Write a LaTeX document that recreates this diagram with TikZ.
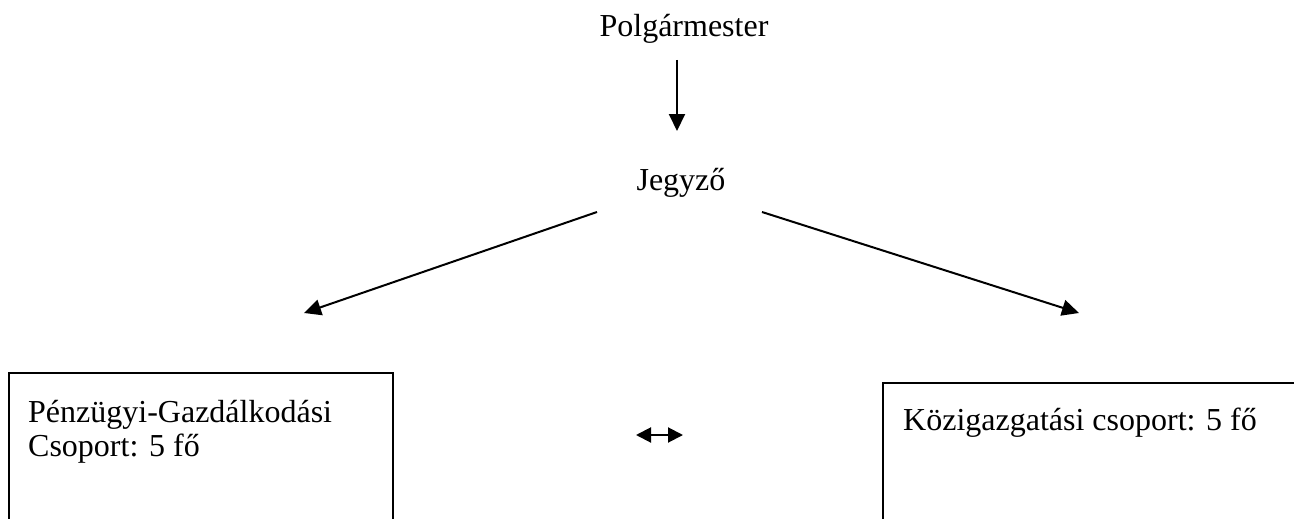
\documentclass[tikz,border=0pt]{standalone}
\usepackage{fontspec}
\setmainfont{Liberation Serif}
\usetikzlibrary{arrows.meta}
\begin{document}
\begin{tikzpicture}[x=1pt,y=-1pt,
  lbl/.style={inner sep=0pt,font=\fontsize{32}{38}\selectfont},
  conn/.style={line width=2pt,-{Triangle[length=17pt,width=16pt]}},
  dbl/.style={line width=2pt,{Triangle[length=15pt,width=15pt]}-{Triangle[length=15pt,width=15pt]}},
  boxline/.style={draw,line width=2.2pt,inner sep=0pt}]
\useasboundingbox (0,0) rectangle (1294,519);
\clip (0,0) rectangle (1294,519);
\node[lbl,anchor=base] (polg) at (684,37) {Polgármester};
\node[lbl,anchor=base] (jegy) at (681,190) {Jegyző};
\coordinate (pa) at (677,60);
\coordinate (pb) at (677,131);
\draw[conn] (pa) -- (pb);
\coordinate (la) at (597,212);
\coordinate (lb) at (304,313);
\coordinate (ra) at (762,212);
\coordinate (rb) at (1079,313);
\draw[conn] (la) -- (lb);
\draw[conn] (ra) -- (rb);
\node[boxline,anchor=north west,minimum width=384pt,minimum height=250pt] (lbox) at (8,372) {};
\node[boxline,anchor=north west,minimum width=500pt,minimum height=250pt] (rbox) at (882,382) {};
\node[lbl,anchor=base west] (lt1) at (28,422) {Pénzügyi-Gazdálkodási};
\node[lbl,anchor=base west] (lt2) at (28,456) {Csoport: 5 fő};
\node[lbl,anchor=base west] (rt) at (903,430) {Közigazgatási csoport: 5 fő};
\coordinate (da) at (636,435);
\coordinate (db) at (683,435);
\draw[dbl] (da) -- (db);
\end{tikzpicture}
\end{document}
